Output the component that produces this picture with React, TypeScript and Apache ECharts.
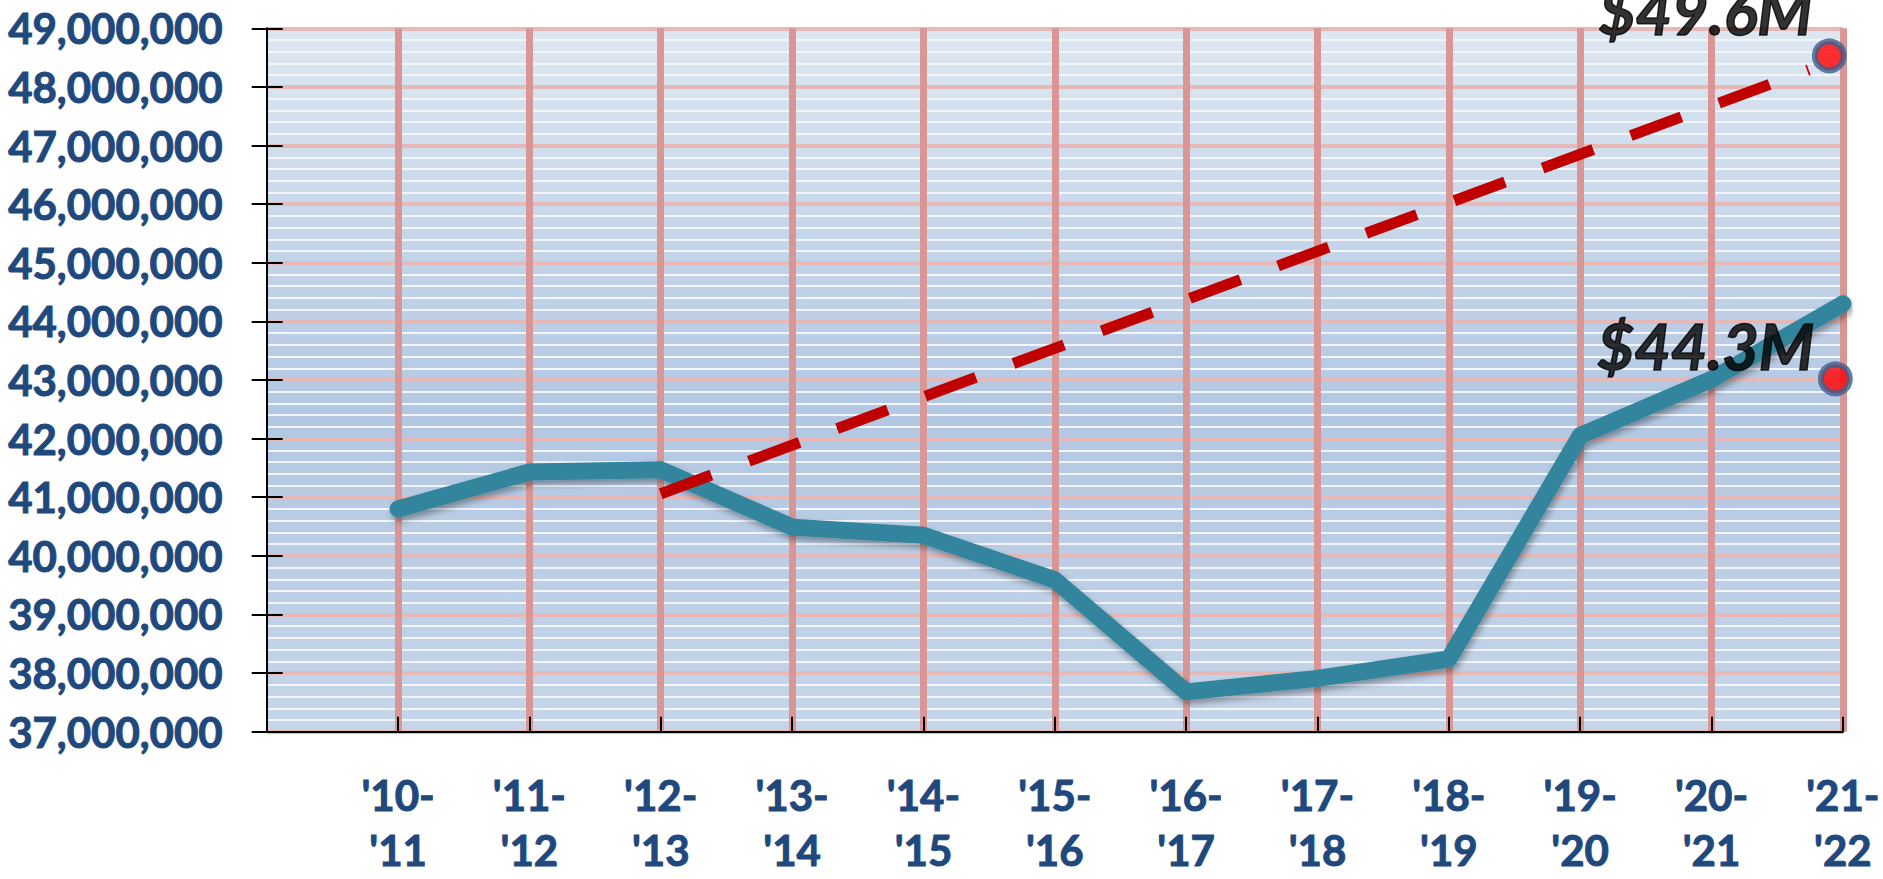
import { useEffect, useRef } from 'react';
import * as echarts from 'echarts';

// Category labels (first slot is the empty position at the axis origin)
const categories: string[] = [
  '',
  "'10-\n'11",
  "'11-\n'12",
  "'12-\n'13",
  "'13-\n'14",
  "'14-\n'15",
  "'15-\n'16",
  "'16-\n'17",
  "'17-\n'18",
  "'18-\n'19",
  "'19-\n'20",
  "'20-\n'21",
  "'21-\n'22",
];

// Actual values (teal line)
const actualValues: (number | null)[] = [
  null,
  40800000,
  41430000,
  41470000,
  40490000,
  40350000,
  39590000,
  37680000,
  37910000,
  38240000,
  42050000,
  43010000,
  44300000,
];

// Projected trend (dashed red) : [position, value]
const trendPoints: [number, number][] = [
  [3, 41060000],
  [11.74, 48290000],
];

// End markers : [position, value]
const markerHigh: [number, number] = [11.897, 48530000];
const markerLow: [number, number] = [11.943, 43020000];
const labelHigh = '$49.6M';
const labelLow = '$44.3M';

// Y axis ticks
const yMin = 37000000;
const yMax = 49000000;
const yInterval = 1000000;

const labelColor = '#1F497D';
const font = 'Lato';

export default function App() {
  const ref = useRef<HTMLDivElement>(null);

  useEffect(() => {
    if (!ref.current) return;
    const chart = echarts.init(ref.current, undefined, { renderer: 'svg' });

    const calloutLabel = (text: string, offset: [number, number]) => ({
      show: true,
      formatter: text,
      position: 'inside',
      offset,
      color: '#000',
      fontFamily: font,
      fontStyle: 'italic',
      fontWeight: 'bold',
      fontSize: 63,
      textBorderColor: '#000',
      textBorderWidth: 1.5,
    });

    const option: any = {
      animation: false,
      grid: {
        left: 266.7,
        right: 35.5,
        top: 28.3,
        bottom: 147.3,
        containLabel: false,
        show: true,
        borderWidth: 0,
        backgroundColor: new echarts.graphic.LinearGradient(0, 0, 0, 1, [
          { offset: 0, color: '#DDE7F2' },
          { offset: 0.55, color: '#B2C7E2' },
          { offset: 1, color: '#C6D6EA' },
        ]),
      },
      xAxis: [
        {
          type: 'category',
          data: categories,
          boundaryGap: false,
          z: 1,
          axisLine: { show: true, lineStyle: { color: '#000', width: 2 } },
          axisTick: {
            show: true,
            inside: true,
            length: 15,
            interval: 0,
            lineStyle: { color: '#000', width: 2 },
          },
          axisLabel: {
            interval: 0,
            margin: 36,
            color: labelColor,
            fontFamily: font,
            fontWeight: 'bold',
            fontSize: 42,
            lineHeight: 55,
            align: 'center',
            textBorderColor: labelColor,
            textBorderWidth: 1,
          },
          splitLine: {
            show: true,
            interval: (i: number) => i !== 0,
            lineStyle: { color: '#D99694', width: 7 },
          },
        },
        {
          type: 'value',
          min: 0,
          max: 12,
          show: false,
        },
      ],
      yAxis: [
        {
          type: 'value',
          min: yMin,
          max: yMax,
          interval: yInterval,
          z: 0,
          axisLine: { show: true, lineStyle: { color: '#000', width: 2 } },
          axisTick: { show: true, length: 15, lineStyle: { color: '#000', width: 2 } },
          axisLabel: {
            margin: 44,
            color: labelColor,
            fontFamily: font,
            fontWeight: 'bold',
            fontSize: 42,
            textBorderColor: labelColor,
            textBorderWidth: 1,
            formatter: (v: number) => v.toLocaleString('en-US'),
          },
          splitLine: { show: true, lineStyle: { color: '#E6B9B8', width: 4 } },
          minorTick: { show: false, splitNumber: 5 },
          minorSplitLine: { show: true, lineStyle: { color: '#F2F6FB', width: 2 } },
        },
        {
          type: 'value',
          min: yMin,
          max: yMax,
          interval: yInterval,
          position: 'left',
          z: 3,
          axisLine: { show: false },
          axisTick: { show: true, inside: true, length: 16, lineStyle: { color: '#000', width: 2 } },
          axisLabel: { show: false },
          splitLine: { show: false },
        },
      ],
      series: [
        {
          type: 'line',
          xAxisIndex: 0,
          yAxisIndex: 0,
          data: actualValues,
          showSymbol: false,
          symbol: 'none',
          z: 3,
          lineStyle: {
            color: '#31859C',
            width: 17,
            cap: 'round',
            join: 'round',
            shadowColor: 'rgba(0,0,0,0.35)',
            shadowBlur: 6,
            shadowOffsetX: 2,
            shadowOffsetY: 4,
          },
        },
        {
          type: 'line',
          xAxisIndex: 1,
          yAxisIndex: 0,
          data: trendPoints,
          showSymbol: false,
          symbol: 'none',
          z: 4,
          lineStyle: {
            color: '#C00000',
            width: 11,
            type: [54, 40],
            cap: 'butt',
          },
        },
        {
          type: 'scatter',
          xAxisIndex: 1,
          yAxisIndex: 0,
          z: 5,
          clip: false,
          data: [markerHigh],
          symbol: 'circle',
          symbolSize: 29,
          itemStyle: { color: '#FF0000', borderColor: '#3C5F8C', borderWidth: 6 },
          label: calloutLabel(labelHigh, [-123.5, -45]),
        },
        {
          type: 'scatter',
          xAxisIndex: 1,
          yAxisIndex: 0,
          z: 5,
          clip: false,
          data: [markerLow],
          symbol: 'circle',
          symbolSize: 29,
          itemStyle: { color: '#FF0000', borderColor: '#3C5F8C', borderWidth: 6 },
          label: calloutLabel(labelLow, [-129.5, -33.5]),
        },
      ],
    };

    chart.setOption(option);
    return () => chart.dispose();
  }, []);

  return (
    <div
      ref={ref}
      style={{ position: 'absolute', left: 0, top: 0, width: 1883, height: 879 }}
    />
  );
}
